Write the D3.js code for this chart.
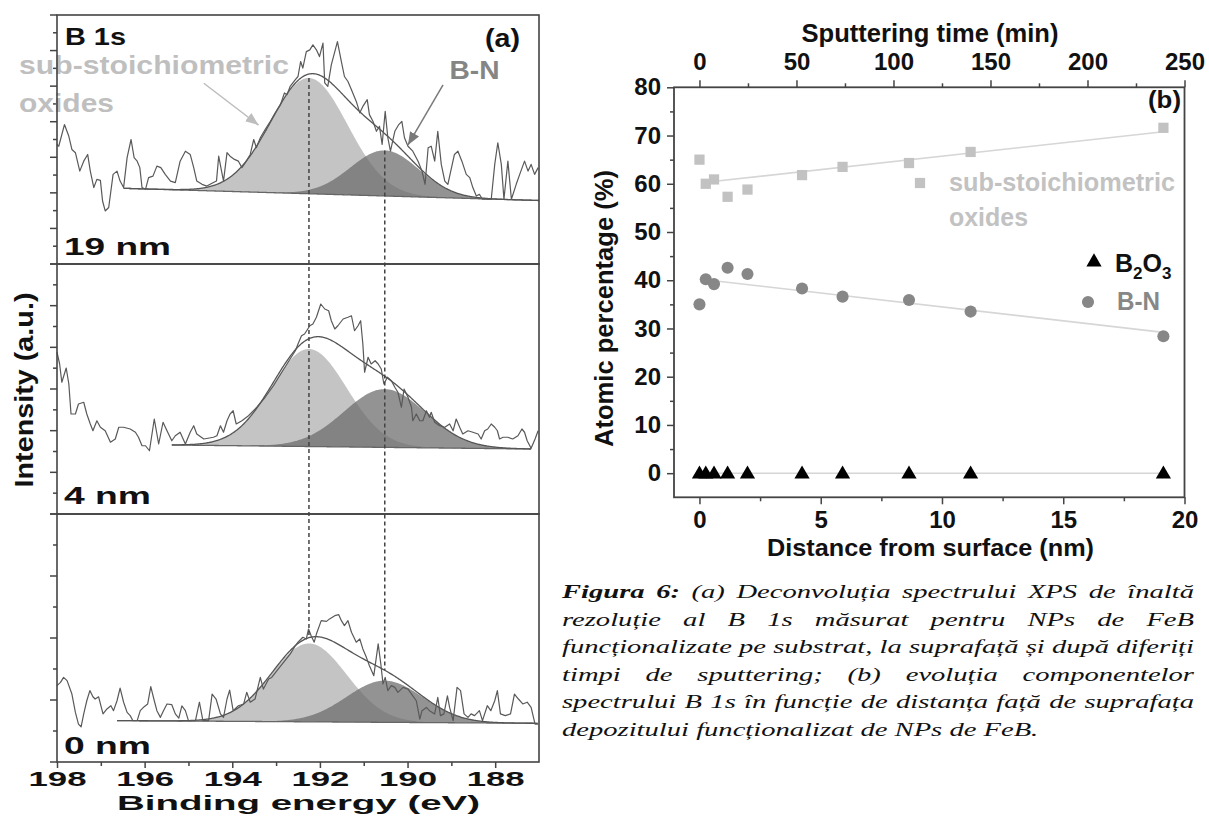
<!DOCTYPE html>
<html>
<head>
<meta charset="utf-8">
<script src="https://cdnjs.cloudflare.com/ajax/libs/d3/7.8.5/d3.min.js"></script>
<style>
body { margin: 0; background: #fff; }
svg { display: block; }
</style>
</head>
<body>
<svg width="1209" height="816">
  <defs>
    <marker id="arrLight" viewBox="0 0 10 10" refX="10" refY="5" markerWidth="13" markerHeight="13" markerUnits="userSpaceOnUse" orient="auto">
      <path d="M0,1 L10,5 L0,9 z" fill="#bdbdbd"/>
    </marker>
    <marker id="arrDark" viewBox="0 0 10 10" refX="10" refY="5" markerWidth="13" markerHeight="13" markerUnits="userSpaceOnUse" orient="auto">
      <path d="M0,1 L10,5 L0,9 z" fill="#7a7a7a"/>
    </marker>
  </defs>
</svg>
<script>
// ---------- data, panel (a): B 1s spectra, [binding energy eV, intensity a.u.] ----------
const depthLabels = ["19 nm", "4 nm", "0 nm"]

const spec19nm = [
  [198.00,48.0],[197.96,47.3],[197.83,56.0],[197.73,51.3],[197.66,46.0],[197.58,44.7],[197.48,37.3],[197.39,41.3],
  [197.30,44.0],[197.24,37.3],[197.16,30.7],[197.09,34.0],[197.01,33.6],[196.96,25.3],[196.90,21.3],[196.82,22.7],
  [196.72,36.0],[196.63,37.3],[196.56,33.3],[196.48,30.7],[196.40,42.7],[196.31,50.0],[196.24,42.7],[196.17,41.3],
  [196.11,38.7],[196.06,30.7],[195.98,30.0],[195.91,34.7],[195.81,35.3],[195.72,39.3],[195.63,38.7],[195.53,36.0],
  [195.41,33.3],[195.30,32.7],[195.19,41.3],[195.07,45.3],[194.96,44.0],[194.88,38.7],[194.81,33.3],[194.69,32.0],
  [194.58,31.3],[194.43,32.7],[194.36,33.3],[194.31,43.3],[194.26,38.7],[194.20,33.3],[194.12,44.7],[194.05,43.3],
  [193.95,42.0],[193.86,41.3],[193.78,38.7],[193.68,41.3],[193.59,44.0],[193.51,50.0],[193.45,46.7],[193.36,50.7],
  [193.25,54.0],[193.13,57.3],[193.02,60.7],[192.90,64.0],[192.81,68.7],[192.75,68.0],[192.68,71.3],[192.56,74.0],
  [192.50,75.3],[192.44,81.3],[192.39,78.7],[192.31,85.3],[192.23,86.0],[192.16,88.0],[192.08,86.0],[192.01,83.3],
  [191.93,88.7],[191.89,72.7],[191.82,71.3],[191.74,80.0],[191.60,89.3],[191.51,81.3],[191.44,75.3],[191.36,73.3],
  [191.28,70.0],[191.17,65.3],[191.09,60.7],[191.02,63.3],[190.92,66.0],[190.87,60.0],[190.79,57.3],[190.71,53.3],
  [190.64,55.3],[190.58,48.0],[190.51,61.3],[190.45,50.7],[190.39,45.3],[190.29,53.3],[190.20,56.0],[190.13,57.3],
  [190.07,50.7],[189.99,47.3],[189.88,45.3],[189.76,41.3],[189.67,37.3],[189.60,32.0],[189.53,46.7],[189.46,47.3],
  [189.38,41.3],[189.31,53.3],[189.23,40.0],[189.15,33.3],[189.08,32.0],[188.93,44.0],[188.85,45.3],[188.76,41.3],
  [188.66,36.0],[188.58,34.7],[188.51,30.7],[188.43,27.3],[188.36,28.0],[188.29,26.0],[188.09,26.0],[188.01,40.0],
  [187.94,48.7],[187.86,40.0],[187.80,26.0],[187.71,41.3],[187.63,26.0],[187.52,32.0],[187.44,36.0],[187.33,41.3],
  [187.25,37.3],[187.18,40.0],[187.10,36.0],[187.02,38.7]
]

const spec4nm = [
  [198.00,64.7],[197.94,60.0],[197.89,52.7],[197.79,58.4],[197.73,52.0],[197.68,40.0],[197.58,40.0],[197.51,44.0],
  [197.39,44.7],[197.32,40.0],[197.24,36.0],[197.18,33.3],[197.09,37.3],[197.01,34.7],[196.90,33.3],[196.78,28.7],
  [196.67,30.0],[196.59,34.7],[196.48,34.7],[196.33,34.0],[196.21,32.7],[196.14,30.7],[196.06,27.3],[195.98,27.3],
  [195.89,25.3],[195.78,38.0],[195.72,32.0],[195.68,28.0],[195.58,36.7],[195.49,33.3],[195.38,29.3],[195.30,31.3],
  [195.19,32.7],[195.07,28.0],[194.96,32.7],[194.88,35.3],[194.81,32.0],[194.65,30.0],[194.43,30.7],[194.35,31.3],
  [194.27,35.3],[194.20,32.7],[194.12,37.3],[194.05,40.0],[193.98,41.3],[193.91,36.0],[193.78,37.3],[193.63,39.3],
  [193.44,42.7],[193.25,46.7],[193.06,51.3],[192.87,56.7],[192.68,62.0],[192.56,65.3],
  [192.50,68.0],[192.42,71.3],[192.35,72.0],[192.23,75.3],[192.16,76.0],[192.08,78.7],[191.98,84.0],[191.89,82.0],
  [191.80,81.3],[191.74,77.3],[191.66,74.0],[191.59,75.3],[191.47,78.0],[191.36,78.7],[191.28,79.3],[191.21,73.3],
  [191.13,75.3],[191.07,77.3],[191.02,68.0],[190.98,56.7],[190.90,62.7],[190.83,60.0],[190.74,61.3],[190.67,60.0],
  [190.60,58.0],[190.54,52.0],[190.46,54.7],[190.37,53.3],[190.29,50.7],[190.22,48.7],[190.14,42.7],[190.08,50.0],
  [189.99,46.7],[189.91,42.7],[189.88,37.3],[189.80,40.0],[189.72,37.3],[189.65,37.3],[189.57,41.3],[189.50,38.7],
  [189.46,40.7],[189.38,36.7],[189.27,35.3],[189.15,34.7],[189.04,36.0],[188.96,33.3],[188.89,38.0],[188.81,34.7],
  [188.74,32.0],[188.62,33.3],[188.51,32.7],[188.39,32.0],[188.32,30.0],[188.24,33.3],[188.17,34.0],[188.09,36.0],
  [188.01,34.7],[187.95,33.3],[187.90,30.0],[187.82,30.7],[187.71,30.7],[187.60,30.0],[187.48,31.3],[187.39,34.0],
  [187.33,32.7],[187.27,29.3],[187.18,26.3],[187.09,30.0],[187.02,33.3]
]

const spec0nm = [
  [198.00,30.8],[197.92,32.1],[197.85,34.1],[197.77,32.8],[197.66,27.4],[197.58,20.0],[197.51,15.3],[197.45,14.2],
  [197.39,19.4],[197.32,24.7],[197.25,28.8],[197.18,26.3],[197.13,25.4],[197.05,26.3],[196.95,19.4],[196.86,21.4],
  [196.77,22.7],[196.71,20.7],[196.63,24.7],[196.56,29.8],[196.48,24.1],[196.40,20.0],[196.33,18.7],[196.27,16.7],
  [196.17,16.7],[196.10,20.7],[196.01,22.3],[195.93,23.4],[195.86,30.4],[195.78,24.7],[195.72,20.7],[195.64,18.0],
  [195.57,20.7],[195.49,23.4],[195.38,23.1],[195.30,19.4],[195.22,17.7],[195.15,22.6],[195.07,20.7],[195.00,16.7],
  [194.84,16.7],[194.75,24.1],[194.67,16.7],[194.54,16.7],[194.46,27.4],[194.37,25.4],[194.27,19.4],[194.20,18.0],
  [194.12,25.4],[194.06,29.0],[193.98,20.7],[193.86,22.7],[193.74,23.4],[193.67,28.1],[193.59,24.1],[193.48,25.4],
  [193.36,34.1],[193.29,29.4],[193.17,33.5],[193.10,34.1],[192.98,36.8],[192.83,40.2],[192.68,43.5],[192.56,46.9],
  [192.50,48.3],[192.39,50.3],[192.31,49.6],[192.26,53.6],[192.20,50.9],[192.13,48.3],[192.08,51.6],[191.97,57.0],
  [191.85,56.7],[191.78,57.7],[191.66,59.0],[191.57,59.4],[191.51,57.0],[191.44,55.0],[191.36,57.0],[191.28,52.3],
  [191.17,48.3],[191.09,49.6],[191.02,45.6],[190.94,42.2],[190.87,38.8],[190.77,34.8],[190.67,47.6],[190.61,39.5],
  [190.56,31.5],[190.51,34.1],[190.45,28.8],[190.37,30.8],[190.29,30.1],[190.22,28.1],[190.10,30.1],[189.99,29.4],
  [189.88,26.7],[189.80,24.7],[189.72,17.3],[189.67,20.7],[189.57,22.0],[189.50,20.7],[189.38,19.4],[189.31,26.1],
  [189.25,18.7],[189.17,19.4],[189.09,26.7],[189.04,22.0],[188.96,16.7],[188.87,30.1],[188.79,28.8],[188.71,19.4],
  [188.62,18.0],[188.55,19.4],[188.47,18.7],[188.36,20.7],[188.29,16.7],[188.18,22.7],[188.10,20.7],[188.01,24.7],
  [187.95,28.8],[187.88,19.4],[187.77,18.7],[187.65,19.4],[187.56,27.4],[187.47,25.4],[187.37,23.4],[187.27,24.1],
  [187.18,22.0],[187.09,15.3],[187.02,15.3]
]

// fitted components (Gaussian) and linear background, one entry per depth
const peakCenters = [192.25, 190.52]        // sub-stoichiometric oxides, B-N
const subHeight = [46.5, 39.0, 31.6]
const subSigma  = [0.88, 0.86, 0.86]
const bnHeight  = [18.3, 23.3, 16.8]
const bnSigma   = [0.78, 0.93, 0.87]
const bgStart = [[196.48, 30.4], [195.38, 27.6], [196.63, 16.7]]
const bgEnd   = [[187.00, 25.5], [187.18, 26.0], [187.02, 15.6]]
const yTickCount = [14, 12, 8]

// ---------- data, panel (b): atomic percentage vs depth ----------
const depthNm = [0, 0.26, 0.60, 1.16, 1.98, 4.23, 5.90, 8.64, 11.18, 19.13]
const subOxides = [65.0, 60.0, 60.9, 57.3, 58.8, 61.8, 63.5, 64.3, 66.6, 71.6]
const bnPct     = [35.0, 40.2, 39.2, 42.6, 41.3, 38.3, 36.6, 35.9, 33.5, 28.4]
const b2o3Pct   = [0, 0, 0, 0, 0, 0, 0, 0, 0, 0]
const fitSub  = [[0.26, 60.3], [19.13, 70.8]]
const fitBN   = [[0.60, 39.9], [19.13, 29.2]]
const fitB2O3 = [[0, 0], [19.13, 0]]
const minPerNm = 12.5
const yTicksB = [0, 10, 20, 30, 40, 50, 60, 70, 80]
const xTicksB = [0, 5, 10, 15, 20]
const tTicksB = [0, 50, 100, 150, 200, 250]

const captionLines = [
  "Figura 6: (a) Deconvoluția spectrului XPS de înaltă",
  "rezoluție al B 1s măsurat pentru NPs de FeB",
  "funcționalizate pe substrat, la suprafață și după diferiți",
  "timpi de sputtering; (b) evoluția componentelor",
  "spectrului B 1s în funcție de distanța față de suprafața",
  "depozitului funcționalizat de NPs de FeB."
]

// ---------- helpers ----------
const svg = d3.select("svg")
const FONT = "'Liberation Sans', Arial, Helvetica, sans-serif"

function addText(parent, o) {
  const t = parent.append("text")
    .attr("x", o.x).attr("y", o.y)
    .attr("font-family", FONT)
    .attr("font-weight", o.weight || "bold")
    .attr("font-size", o.size)
    .attr("fill", o.fill || "#111")
    .attr("text-anchor", o.anchor || "start")
    .text(o.text)
  if (o.len) t.attr("textLength", o.len).attr("lengthAdjust", "spacingAndGlyphs")
  if (o.rotate) t.attr("transform", `rotate(${o.rotate},${o.x},${o.y})`)
  return t
}

function styleAxis(g, size, color) {
  g.select(".domain").remove()
  g.selectAll("line").attr("stroke", color || "#444").attr("stroke-width", 1.5)
  g.selectAll("text").attr("font-family", FONT).attr("font-weight", "bold")
    .attr("font-size", size).attr("fill", "#111")
}

const gauss = (e, c, h, s) => h * Math.exp(-((e - c) ** 2) / (2 * s * s))
const bgAt = (i, e) => bgStart[i][1] + (e - bgStart[i][0]) * (bgEnd[i][1] - bgStart[i][1]) / (bgEnd[i][0] - bgStart[i][0])
const subAt = (i, e) => gauss(e, peakCenters[0], subHeight[i], subSigma[i])
const bnAt = (i, e) => gauss(e, peakCenters[1], bnHeight[i], bnSigma[i])
const envAt = (i, e) => bgAt(i, e) + subAt(i, e) + bnAt(i, e)

// ================= panel (a) =================
const xL = d3.scaleLinear().domain([198, 187]).range([57, 539])
const panelTop = [15, 264, 514]
const panelBottom = [264, 514, 762]
const yL = panelTop.map((t, i) => d3.scaleLinear().domain([0, 100]).range([panelBottom[i], t]))
const spectra = [spec19nm, spec4nm, spec0nm]

const gA = svg.append("g")

spectra.forEach((spec, i) => {
  const y = yL[i]
  const g = gA.append("g")
  const grid = d3.range(bgStart[i][0], bgEnd[i][0] - 1e-6, -0.02)

  g.append("path").datum(grid)
    .attr("d", d3.area().x(e => xL(e)).y0(e => y(bgAt(i, e))).y1(e => y(bgAt(i, e) + subAt(i, e))))
    .attr("fill", "#c4c4c4")
  g.append("path").datum(grid)
    .attr("d", d3.area().x(e => xL(e)).y0(e => y(bgAt(i, e))).y1(e => y(bgAt(i, e) + bnAt(i, e))))
    .attr("fill", "#6a6a6a").attr("fill-opacity", 0.72)
  g.append("path").datum(grid)
    .attr("d", d3.line().x(e => xL(e)).y(e => y(bgAt(i, e))))
    .attr("fill", "none").attr("stroke", "#666").attr("stroke-width", 1.3)
  g.append("path").datum(grid)
    .attr("d", d3.line().x(e => xL(e)).y(e => y(envAt(i, e))))
    .attr("fill", "none").attr("stroke", "#555").attr("stroke-width", 1.3)
  g.append("path").datum(spec)
    .attr("d", d3.line().x(d => xL(d[0])).y(d => y(d[1])))
    .attr("fill", "none").attr("stroke", "#595959").attr("stroke-width", 1.2)
    .attr("stroke-linejoin", "round")

  // left ticks, alternating long/short
  const n = yTickCount[i]
  const ticks = d3.range(n + 1).map(k => ({ v: k * 100 / n, major: k % 2 === 0 }))
  g.selectAll("line.tk").data(ticks).join("line")
    .attr("x1", 57).attr("x2", d => 57 - (d.major ? 7 : 4))
    .attr("y1", d => y(d.v)).attr("y2", d => y(d.v))
    .attr("stroke", "#444").attr("stroke-width", 1.5)

  addText(g, { x: 64, y: [255, 504, 754][i], text: depthLabels[i], size: 24, len: [107, 87, 87][i] })
})

// dashed guide lines through both component maxima
peakCenters.forEach((c, k) => {
  const top = yL[0](bgAt(0, c) + (k === 0 ? subHeight[0] : bnHeight[0]))
  const bottom = yL[2](envAt(2, c))
  gA.append("line")
    .attr("x1", xL(c)).attr("x2", xL(c)).attr("y1", top).attr("y2", bottom)
    .attr("stroke", "#444").attr("stroke-width", 1.5).attr("stroke-dasharray", "4,3")
})

// annotations
addText(gA, { x: 65, y: 45, text: "B 1s", size: 24, len: 61 })
addText(gA, { x: 485, y: 46.5, text: "(a)", size: 26, len: 35 })
addText(gA, { x: 19, y: 74, text: "sub-stoichiometric", size: 25, len: 270, fill: "#bfbfbf" })
addText(gA, { x: 19, y: 111.5, text: "oxides", size: 25, len: 95, fill: "#bfbfbf" })
addText(gA, { x: 449.5, y: 78.5, text: "B-N", size: 26, len: 50, fill: "#858585" })

gA.append("line")
  .attr("x1", xL(194.65)).attr("y1", yL[0](72.6)).attr("x2", xL(193.40)).attr("y2", yL[0](55.8))
  .attr("stroke", "#bdbdbd").attr("stroke-width", 1.5).attr("marker-end", "url(#arrLight)")
gA.append("line")
  .attr("x1", xL(189.19)).attr("y1", yL[0](71.9)).attr("x2", xL(189.99)).attr("y2", yL[0](47.8))
  .attr("stroke", "#7a7a7a").attr("stroke-width", 1.5).attr("marker-end", "url(#arrDark)")

// frames
panelTop.forEach((t, i) => {
  gA.append("rect").attr("x", 57).attr("y", t).attr("width", 482).attr("height", panelBottom[i] - t)
    .attr("fill", "none").attr("stroke", "#444").attr("stroke-width", 1.6)
})

// binding energy axis
const axA = gA.append("g").attr("transform", "translate(0,762)")
  .call(d3.axisBottom(xL).tickValues(d3.range(198, 187, -2)).tickSize(6).tickPadding(3).tickFormat(d3.format("d")))
styleAxis(axA, 21)
axA.selectAll("text").attr("textLength", 58).attr("lengthAdjust", "spacingAndGlyphs")
const axAm = gA.append("g").attr("transform", "translate(0,762)")
  .call(d3.axisBottom(xL).tickValues(d3.range(197, 188, -2)).tickSize(4).tickFormat(""))
styleAxis(axAm, 10)

addText(gA, { x: 298.5, y: 810, text: "Binding energy (eV)", size: 20, len: 363, anchor: "middle" })
addText(gA, { x: 33, y: 390, text: "Intensity (a.u.)", size: 26, len: 195, anchor: "middle", rotate: -90 })

// ================= panel (b) =================
const gB = svg.append("g")
const xR = d3.scaleLinear().domain([-1.05, 20]).range([674, 1184.5])
const tR = d3.scaleLinear().domain([-1.05 * minPerNm, 20 * minPerNm]).range([674, 1184.5])
const yR = d3.scaleLinear().domain([-5, 80]).range([497.3, 87.3])

// fit lines
;[fitSub, fitBN, fitB2O3].forEach(f => {
  gB.append("path").datum(f)
    .attr("d", d3.line().x(d => xR(d[0])).y(d => yR(d[1])))
    .attr("stroke", "#d6d6d6").attr("stroke-width", 1.6).attr("fill", "none")
})

const sym = (type, size) => d3.symbol().type(type).size(size)()
gB.selectAll("path.sq").data(depthNm.map((d, i) => [d, subOxides[i]])).join("path")
  .attr("d", sym(d3.symbolSquare, 105)).attr("fill", "#c2c2c2")
  .attr("transform", d => `translate(${xR(d[0])},${yR(d[1])})`)
gB.selectAll("path.ci").data(depthNm.map((d, i) => [d, bnPct[i]])).join("path")
  .attr("d", sym(d3.symbolCircle, 115)).attr("fill", "#878787")
  .attr("transform", d => `translate(${xR(d[0])},${yR(d[1])})`)
gB.selectAll("path.tr").data(depthNm.map((d, i) => [d, b2o3Pct[i]])).join("path")
  .attr("d", sym(d3.symbolTriangle, 100)).attr("fill", "#000")
  .attr("transform", d => `translate(${xR(d[0])},${yR(d[1]) + 1})`)

// frame
gB.append("rect").attr("x", 674).attr("y", 87.3).attr("width", 510.5).attr("height", 410)
  .attr("fill", "none").attr("stroke", "#444").attr("stroke-width", 1.8)

const axL = gB.append("g").attr("transform", "translate(674,0)")
  .call(d3.axisLeft(yR).tickValues(yTicksB).tickSize(7).tickPadding(6))
styleAxis(axL, 24)
const axLm = gB.append("g").attr("transform", "translate(674,0)")
  .call(d3.axisLeft(yR).tickValues(d3.range(5, 80, 10)).tickSize(4).tickFormat(""))
styleAxis(axLm, 10)

const axBt = gB.append("g").attr("transform", "translate(0,497.3)")
  .call(d3.axisBottom(xR).tickValues(xTicksB).tickSize(7).tickPadding(7))
styleAxis(axBt, 24)
const axBtm = gB.append("g").attr("transform", "translate(0,497.3)")
  .call(d3.axisBottom(xR).tickValues(d3.range(2.5, 20, 5)).tickSize(4).tickFormat(""))
styleAxis(axBtm, 10)

const axT = gB.append("g").attr("transform", "translate(0,87.3)")
  .call(d3.axisTop(tR).tickValues(tTicksB).tickSize(7).tickPadding(10))
styleAxis(axT, 24)
const axTm = gB.append("g").attr("transform", "translate(0,87.3)")
  .call(d3.axisTop(tR).tickValues(d3.range(25, 250, 50)).tickSize(4).tickFormat(""))
styleAxis(axTm, 10)

addText(gB, { x: 930, y: 42, text: "Sputtering time (min)", size: 25, len: 257, anchor: "middle" })
addText(gB, { x: 930.5, y: 556, text: "Distance from surface (nm)", size: 24, len: 327, anchor: "middle" })
addText(gB, { x: 613, y: 308.5, text: "Atomic percentage (%)", size: 25, len: 277, anchor: "middle", rotate: -90 })
addText(gB, { x: 1148, y: 108, text: "(b)", size: 24, len: 33 })

// legend
gB.append("path").attr("d", sym(d3.symbolSquare, 105)).attr("fill", "#c2c2c2").attr("transform", "translate(920,183)")
addText(gB, { x: 949, y: 190.5, text: "sub-stoichiometric", size: 25, len: 226, fill: "#c2c2c2" })
addText(gB, { x: 949, y: 225.5, text: "oxides", size: 25, len: 79, fill: "#c2c2c2" })
gB.append("path").attr("d", sym(d3.symbolTriangle, 100)).attr("fill", "#000").attr("transform", "translate(1094,262)")
const b2o3 = addText(gB, { x: 1115, y: 271.5, text: "B", size: 25 })
b2o3.append("tspan").attr("font-size", 17).attr("dy", 7).text("2")
b2o3.append("tspan").attr("dy", -7).text("O")
b2o3.append("tspan").attr("font-size", 17).attr("dy", 7).text("3")
gB.append("path").attr("d", sym(d3.symbolCircle, 115)).attr("fill", "#878787").attr("transform", "translate(1088,302)")
addText(gB, { x: 1117, y: 310, text: "B-N", size: 25, len: 43, fill: "#878787" })

// ================= caption =================
const capFont = "'Liberation Serif', 'Times New Roman', serif"
const capSize = 18, capX0 = 562, capX1 = 1194, capY0 = 598, capLead = 27.6
const gC = svg.append("g")
const lineItems = captionLines.map((ln, li) => {
  return ln.split(/\s+/).map((w, wi) => {
    const t = gC.append("text")
      .attr("font-family", capFont).attr("font-style", "italic")
      .attr("font-size", capSize).attr("fill", "#111")
      .attr("y", capY0 + li * capLead).text(w)
    if (li === 0 && wi < 2) t.attr("font-weight", "bold")
    return { t, w: t.node().getComputedTextLength() }
  })
})
const space = capSize * 0.25
const justified = lineItems.slice(0, -1)
const stretch = d3.min(justified, items =>
  (capX1 - capX0) / (d3.sum(items, d => d.w) + space * (items.length - 1)))
lineItems.forEach((items, li) => {
  const isLast = li === lineItems.length - 1
  const total = d3.sum(items, d => d.w * stretch)
  const gap = isLast ? space * stretch : (capX1 - capX0 - total) / (items.length - 1)
  let x = capX0
  items.forEach(d => {
    d.t.attr("x", x).attr("textLength", d.w * stretch).attr("lengthAdjust", "spacingAndGlyphs")
    x += d.w * stretch + gap
  })
})
</script>
</body>
</html>
